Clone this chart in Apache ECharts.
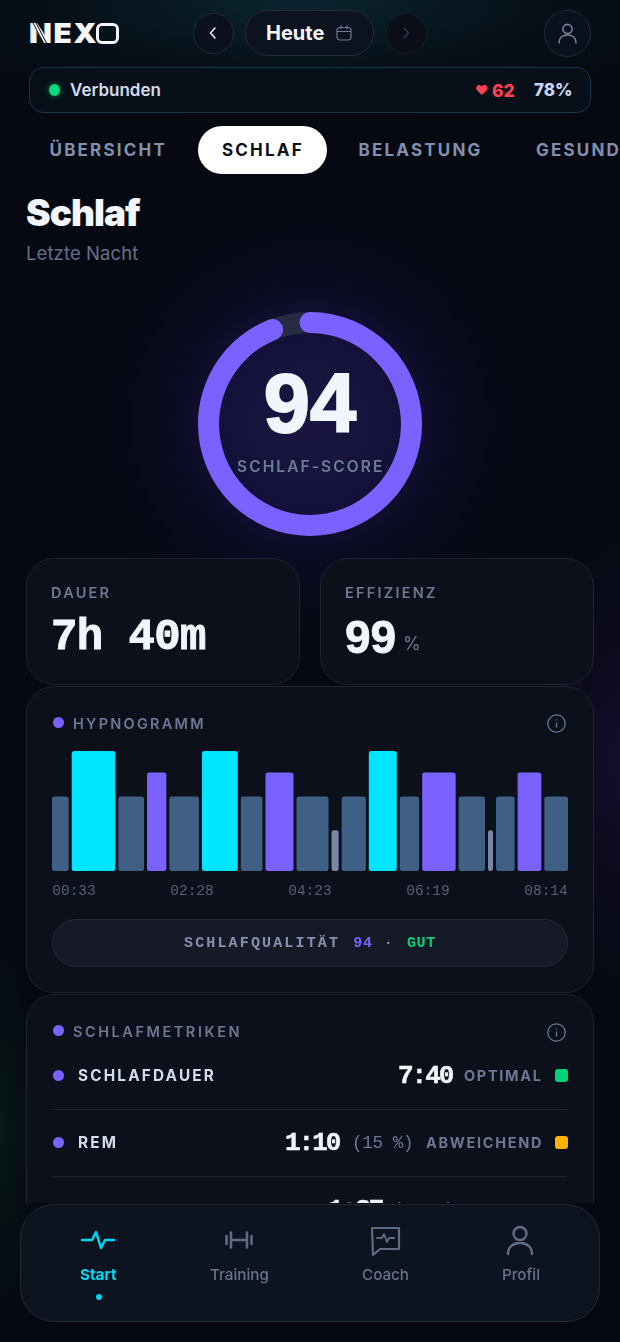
<!DOCTYPE html>
<html lang="de"><head><meta charset="utf-8"><title>NEXO Schlaf</title>
<script src="https://cdn.jsdelivr.net/npm/echarts@6/dist/echarts.min.js"></script>
<style>
html,body{margin:0;padding:0;background:#060912;}
#page{position:relative;width:620px;height:1342px;overflow:hidden;font-family:Inter,sans-serif;
background:
 radial-gradient(circle at 310px 423px,#1a1640 0,#13113a 90px,#0b0b22 135px,rgba(8,9,24,.7) 190px,rgba(6,9,18,0) 240px),
 radial-gradient(ellipse 420px 120px at 300px 0,#0a2530 0,rgba(7,20,28,.7) 55%,rgba(6,9,18,0) 100%),
 radial-gradient(ellipse 40px 200px at 0 1130px,#061816 0,rgba(6,9,18,0) 100%),
 radial-gradient(ellipse 80px 240px at 620px 760px,#120e2a 0,rgba(6,9,18,0) 100%),
 #060912;}
.t{position:absolute;white-space:nowrap;line-height:0;}
.m{font-family:"Liberation Mono",monospace;}
.b{position:absolute;box-sizing:border-box;}
.card{position:absolute;box-sizing:border-box;background:#0b101b;border:1px solid #1d2330;border-radius:28px;}
.lab{font-size:14.5px;font-weight:600;letter-spacing:2.25px;color:#6d7993;}
.dot{position:absolute;width:11px;height:11px;border-radius:50%;background:#7b61ff;}
.row{font-size:15.3px;font-weight:700;letter-spacing:2.2px;color:#d7ddee;}
.val{font-family:"Liberation Mono",monospace;font-weight:700;font-size:26px;letter-spacing:-2px;color:#f3f5fc;-webkit-text-stroke:.5px #f3f5fc;}
.st{font-size:14.5px;font-weight:700;letter-spacing:1.7px;color:#6d7993;}
.sq{position:absolute;width:13px;height:13px;border-radius:3px;}
.div{position:absolute;left:52px;width:515px;height:1px;background:#1b2330;}
.tab{font-size:17px;font-weight:700;letter-spacing:2.2px;color:#8190ad;}
.nav{font-size:15.2px;font-weight:500;color:#68748e;}
svg{position:absolute;fill:none;}
#clip{position:absolute;left:0;top:0;width:620px;height:1203px;overflow:hidden;}
</style></head><body><div id="page">

<div class="t" id="logo" style="left:28.500px;top:33px;font-size:27.500px;font-weight:900;color:#f4f6fc;transform:scaleX(1.08);transform-origin:left center;letter-spacing:1.500px;">NEX<span style="color:transparent">O</span></div>
<div class="b" style="left:96px;top:23px;width:22.500px;height:20.500px;border:3.200px solid #f4f6fc;border-radius:6px;"></div>
<svg style="left:28px;top:23px" width="24" height="21" viewBox="0 0 24 21"><path d="M5 0 16 21M8 0 19 21" stroke="#060d16" stroke-width="1"/></svg>

<div class="b" style="left:193px;top:13px;width:41px;height:41px;border-radius:50%;border:1px solid #232a3a;background:#0b111c;"></div>
<svg style="left:205px;top:25px" width="16" height="16" viewBox="0 0 16 16"><path d="M10 3 5.500 8l4.500 5" stroke="#f0f3fa" stroke-width="1.500" stroke-linecap="round" stroke-linejoin="round"/></svg>
<div class="b" style="left:245px;top:10px;width:129px;height:46px;border-radius:23px;border:1px solid #232a3a;background:#0c121e;"></div>
<div class="t" style="left:266px;top:33px;font-size:20px;font-weight:700;color:#f3f5fc;">Heute</div>
<svg style="left:335px;top:24px" width="18" height="18" viewBox="0 0 18 18"><rect x="2" y="3.500" width="14" height="12.500" rx="3" stroke="#6d7993" stroke-width="1.200"/><path d="M2 7.500h14M6 1.500v3.500M12 1.500v3.500" stroke="#6d7993" stroke-width="1.200"/></svg>
<div class="b" style="left:386px;top:13px;width:41px;height:41px;border-radius:50%;border:1px solid #151b28;background:#090e18;"></div>
<svg style="left:398px;top:25px" width="16" height="16" viewBox="0 0 16 16"><path d="M6 3 10.500 8 6 13" stroke="#343e52" stroke-width="1.400" stroke-linecap="round" stroke-linejoin="round"/></svg>
<div class="b" style="left:544px;top:10px;width:47px;height:47px;border-radius:50%;border:1px solid #232a3a;background:#0b111c;"></div>
<svg style="left:555px;top:21px" width="25" height="25" viewBox="0 0 25 25"><circle cx="12.500" cy="8" r="4.600" stroke="#77839c" stroke-width="1.600"/><path d="M4 22c0-5 3.500-8 8.500-8s8.500 3 8.500 8" stroke="#77839c" stroke-width="1.600" stroke-linecap="round"/></svg>

<div class="b" style="left:29px;top:67px;width:562px;height:46px;border-radius:14px;border:1px solid #14384a;background:#080f19;"></div>
<div class="b" style="left:49px;top:84px;width:11px;height:12px;border-radius:50%;background:#00d97e;box-shadow:0 0 6px #00d97e80;"></div>
<div class="t" style="left:70px;top:90px;font-size:17px;font-weight:600;color:#d3dbec;">Verbunden</div>
<div class="t" style="left:475px;top:90px;font-size:13px;font-weight:700;color:#ff4056;">♥</div>
<div class="t" style="left:492px;top:90.500px;font-size:17.500px;font-weight:800;color:#ff4056;">62</div>
<div class="t" style="left:534px;top:90px;font-size:17px;font-weight:800;color:#c9d5ef;">78%</div>

<div class="t tab" style="left:49.500px;top:149.500px;">ÜBERSICHT</div>
<div class="b" style="left:198px;top:125.500px;width:129px;height:48px;border-radius:24px;background:#fff;"></div>
<div class="t tab" style="left:222px;top:149.500px;color:#0b0f19;">SCHLAF</div>
<div class="t tab" style="left:358.500px;top:149.500px;">BELASTUNG</div>
<div class="t tab" style="left:536px;top:149.500px;">GESUNDHEIT</div>

<div class="t" style="left:26px;top:213px;font-size:37px;font-weight:900;letter-spacing:-1px;color:#f3f5fc;">Schlaf</div>
<div class="t" style="left:26px;top:253px;font-size:18.500px;font-weight:400;letter-spacing:.1px;color:#666f8b;">Letzte Nacht</div>

<div id="gauge" class="b" style="left:180px;top:294px;width:260px;height:260px;"></div>
<div class="t" style="left:237px;top:466.500px;font-size:15.500px;font-weight:600;letter-spacing:2.100px;color:#6c7d98;">SCHLAF-SCORE</div>

<div id="clip">
<div class="card" style="left:26px;top:558px;width:274px;height:127px;"></div>
<div class="card" style="left:320px;top:558px;width:274px;height:127px;"></div>
<div class="t lab" style="left:51px;top:593px;">DAUER</div>
<div class="t m" style="left:51px;top:637px;font-size:44px;font-weight:700;letter-spacing:-.6px;color:#f3f5fc;-webkit-text-stroke:.9px #f3f5fc;">7h 40m</div>
<div class="t lab" style="left:345px;top:593px;">EFFIZIENZ</div>
<div class="t" style="left:345px;top:637px;font-family:'Liberation Sans',sans-serif;font-size:46px;font-weight:700;color:#f3f5fc;-webkit-text-stroke:.8px #f3f5fc;">99</div>
<div class="t" style="left:403px;top:644px;font-size:18px;color:#6d7993;">%</div>

<div class="card" style="left:26px;top:686px;width:568px;height:307px;"></div>
<div class="dot" style="left:52.500px;top:716.500px;"></div>
<div class="t lab" style="left:73px;top:724px;">HYPNOGRAMM</div>
<svg style="left:546px;top:713px" width="21" height="21" viewBox="0 0 21 21"><circle cx="10.500" cy="10.500" r="8.700" stroke="#6d7993" stroke-width="1.300"/><path d="M10.500 9.500v5M10.500 6.200v1.200" stroke="#6d7993" stroke-width="1.300"/></svg>
<div id="hypno" class="b" style="left:0;top:740px;width:620px;height:170px;"></div>
<div class="b" style="left:52px;top:919px;width:516px;height:48px;border-radius:24px;background:#151a26;border:1px solid #232a38;"></div>
<div class="t m" style="left:184px;top:943.500px;font-size:15px;font-weight:700;letter-spacing:2.150px;color:#8592ae;">SCHLAFQUALITÄT <span style="color:#7b61ff;letter-spacing:.6px;margin-left:2px">94</span> · <span style="color:#00d27a;letter-spacing:.6px;margin-left:1px">GUT</span></div>

<div class="card" style="left:26px;top:994px;width:568px;height:400px;"></div>
<div class="dot" style="left:52.500px;top:1024.500px;"></div>
<div class="t lab" style="left:73px;top:1032px;letter-spacing:2.550px;">SCHLAFMETRIKEN</div>
<svg style="left:546px;top:1021.500px" width="21" height="21" viewBox="0 0 21 21"><circle cx="10.500" cy="10.500" r="8.700" stroke="#6d7993" stroke-width="1.300"/><path d="M10.500 9.500v5M10.500 6.200v1.200" stroke="#6d7993" stroke-width="1.300"/></svg>

<div class="dot" style="left:52.500px;top:1070px;"></div>
<div class="t row" style="left:78px;top:1076px;">SCHLAFDAUER</div>
<div class="t val" style="left:398px;top:1075.500px;">7:40</div>
<div class="t st" style="left:464px;top:1076px;">OPTIMAL</div>
<div class="sq" style="left:555px;top:1069px;background:#00d27a;"></div>
<div class="div" style="top:1108.500px;"></div>

<div class="dot" style="left:52.500px;top:1137px;"></div>
<div class="t row" style="left:78px;top:1143px;">REM</div>
<div class="t val" style="left:285px;top:1142.500px;">1:10</div>
<div class="t m" style="left:352px;top:1143px;font-size:17.500px;letter-spacing:-.3px;color:#6d7993;">(15 %)</div>
<div class="t st" style="left:426px;top:1143px;">ABWEICHEND</div>
<div class="sq" style="left:555px;top:1136px;background:#ffb400;"></div>
<div class="div" style="top:1175.500px;"></div>

<div class="t row" style="left:78px;top:1210px;">TIEFSCHLAF</div>
<div class="t val" style="left:328px;top:1209.500px;">1:37</div>
<div class="t m" style="left:393px;top:1210px;font-size:17.500px;letter-spacing:-.3px;color:#6d7993;">(21 %)</div>
</div>

<div class="b" style="left:20px;top:1204px;width:580px;height:118px;border-radius:34px;background:#0c1420;border:1px solid #222a36;"></div>
<svg style="left:80px;top:1226px" width="36" height="28" viewBox="0 0 36 28"><path d="M2 14h10l4-8 5 16 4-8h9" stroke="#00d9f5" stroke-width="2.500" stroke-linecap="round" stroke-linejoin="round"/></svg>
<svg style="left:224px;top:1226px" width="30" height="28" viewBox="0 0 30 28"><path d="M2.500 10v8M7 6.500v15M23 6.500v15M27.500 10v8M7 14h16" stroke="#5f6b85" stroke-width="2.500" stroke-linecap="round"/></svg>
<svg style="left:369px;top:1225px" width="32" height="32" viewBox="0 0 32 32"><path d="M3 3h27v21H11l-7 6z" stroke="#5f6b85" stroke-width="2.200" stroke-linejoin="round"/><path d="M8 13h5l2-4 3 8 2-4h5" stroke="#5f6b85" stroke-width="1.800" stroke-linejoin="round" stroke-linecap="round"/></svg>
<svg style="left:505px;top:1225px" width="30" height="32" viewBox="0 0 30 32"><circle cx="15" cy="8.500" r="6.500" stroke="#5f6b85" stroke-width="2.500"/><path d="M3 29c0-7 5-11 12-11s12 4 12 11" stroke="#5f6b85" stroke-width="2.500" stroke-linecap="round"/></svg>
<div class="t nav" style="left:80px;top:1275px;color:#00d9f5;font-weight:700;">Start</div>
<div class="t nav" style="left:210px;top:1275px;">Training</div>
<div class="t nav" style="left:362px;top:1275px;">Coach</div>
<div class="t nav" style="left:502px;top:1275px;">Profil</div>
<div class="b" style="left:95.500px;top:1294px;width:6px;height:6px;border-radius:50%;background:#00d9f5;"></div>
</div>

<script>
// Schlaf-Score
const score = 94;
// Hypnogramm: Phasen in Reihenfolge, Dauer in Minuten, Start der Nacht
const stages = ['leicht','tief','leicht','rem','leicht','tief','leicht','rem','leicht','wach','leicht','tief','leicht','rem','leicht','wach','leicht','rem','leicht'];
const minutes = [17.5,41.4,25.5,19.8,29,34.5,21.9,27.6,31.1,9,24.1,27.5,19.9,32.4,26.1,7.1,19.2,23.7,23.7];
const startMinute = 33;
const endMinute = 494;
const tickLabels = ['00:33','02:28','04:23','06:19','08:14'];
const stageLevel = {tief:100, rem:82, leicht:62, wach:34};
const stageColor = {tief:'#00e5ff', rem:'#7b61ff', leicht:'#3f5f85', wach:'#7a86a6'};

const gauge = echarts.init(document.getElementById('gauge'));
gauge.setOption({
  animation:false,
  series:[{
    type:'gauge', center:[130,130], radius:112, startAngle:90, endAngle:-270, min:0, max:100,
    pointer:{show:false}, axisTick:{show:false}, splitLine:{show:false}, axisLabel:{show:false}, title:{show:false},
    axisLine:{roundCap:false, lineStyle:{width:21, color:[[1,'#262a42']]}},
    progress:{show:true, width:21, roundCap:true, itemStyle:{color:'#7b61ff'}},
    detail:{show:true, valueAnimation:false, offsetCenter:[0,-15], formatter:'{value}', fontFamily:'Liberation Sans', fontWeight:'bold', fontSize:83, color:'#f3f5fc', textBorderColor:'#f3f5fc', textBorderWidth:2},
    data:[{value:score}]
  }]
});

let cursor = startMinute;
const barData = stages.map((s,i)=>{ const a=cursor; cursor+=minutes[i]; return [a,cursor,stageLevel[s],s]; });

const hypno = echarts.init(document.getElementById('hypno'));
hypno.setOption({
  animation:false,
  grid:[{left:50.5,width:519,top:11,height:120},{left:74,width:472,top:131,height:1}],
  xAxis:[
    {type:'value',gridIndex:0,min:startMinute,max:endMinute,show:false},
    {type:'category',gridIndex:1,data:tickLabels,boundaryGap:false,axisLine:{show:false},axisTick:{show:false},
     axisLabel:{show:true,interval:0,margin:12,color:'#56607a',fontFamily:'Liberation Mono',fontSize:14.5}}
  ],
  yAxis:[
    {type:'value',gridIndex:0,min:0,max:100,show:false},
    {type:'value',gridIndex:1,show:false}
  ],
  series:[{
    type:'custom', xAxisIndex:0, yAxisIndex:0, coordinateSystem:'cartesian2d',
    encode:{x:[0,1],y:2},
    data:barData,
    renderItem:(params,api)=>{
      const p0=api.coord([api.value(0),0]);
      const p1=api.coord([api.value(1),api.value(2)]);
      const s=barData[params.dataIndex][3];
      return {type:'rect',
        shape:{x:p0[0]+1.5,y:p1[1],width:p1[0]-p0[0]-3,height:p0[1]-p1[1],r:2.5},
        style:{fill:stageColor[s]}};
    }
  }]
});
</script>
</body></html>
